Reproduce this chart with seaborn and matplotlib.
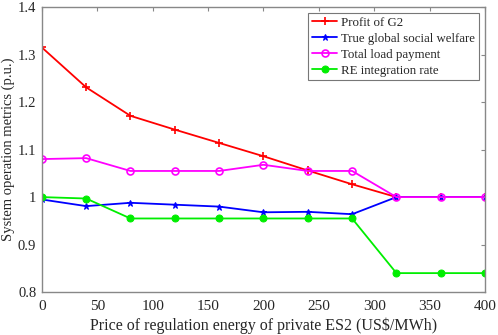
import numpy as np
import pandas as pd
import matplotlib
matplotlib.use("Agg")
import matplotlib.pyplot as plt
import seaborn as sns

# --- data ---
price = [0, 40, 80, 120, 160, 200, 240, 280, 320, 360, 400]
profit_g2 = [1.315, 1.231, 1.171, 1.142, 1.114, 1.086, 1.056, 1.027, 1.0, 1.0, 1.0]
social_welfare = [0.995, 0.981, 0.988, 0.984, 0.980, 0.968, 0.969, 0.964, 1.0, 1.0, 1.0]
load_payment = [1.080, 1.082, 1.055, 1.055, 1.055, 1.068, 1.055, 1.055, 1.0, 1.0, 1.0]
re_rate = [1.0, 0.997, 0.955, 0.955, 0.955, 0.955, 0.955, 0.955, 0.840, 0.840, 0.840]

series_names = ["Profit of G2", "True global social welfare",
                "Total load payment", "RE integration rate"]
xticks = [0, 50, 100, 150, 200, 250, 300, 350, 400]
yticks = [0.8, 0.9, 1.0, 1.1, 1.2, 1.3, 1.4]
ytick_labels = ["0.8", "0.9", "1", "1.1", "1.2", "1.3", "1.4"]

sns.set_style("white")
plt.rcParams["font.family"] = ["Liberation Serif", "DejaVu Serif"]

fig = plt.figure(figsize=(4.98, 3.35), dpi=100)
ax = fig.add_axes([0.084, 0.128, 0.89, 0.851])

styles = [
    (profit_g2, "#ff0000", "+", dict(markersize=6, markeredgewidth=1.2)),
    (social_welfare, "#0000ff", "*", dict(markersize=5)),
    (load_payment, "#ff00ff", "o", dict(markersize=5, markerfacecolor="none", markeredgewidth=1.2)),
    (re_rate, "#00ee00", "o", dict(markersize=5)),
]

for name, (vals, col, mk, kw) in zip(series_names, styles):
    sns.lineplot(x=price, y=vals, ax=ax, color=col, marker=mk, linewidth=1.3,
                 markeredgecolor=col, label=name, **kw)

ax.set_xlim(0, 400)
ax.set_ylim(0.8, 1.4)
ax.set_xticks(xticks)
ax.set_yticks(yticks)
ax.set_yticklabels(ytick_labels)
ax.tick_params(direction="in", top=True, right=True, labelsize=10.5, length=3,
               color="#888888")
ax.tick_params(axis="x", pad=6, labelsize=11)
ax.tick_params(axis="y", pad=4)
for sp in ax.spines.values():
    sp.set_color("#888888")
    sp.set_linewidth(1.0)

ax.set_xlabel("Price of regulation energy of private ES2 (US$/MWh)", fontsize=11.5, labelpad=3)
ax.set_ylabel("System operation metrics (p.u.)", fontsize=10.5, labelpad=2)

leg = ax.legend(loc="upper right", fontsize=9.3, frameon=True, fancybox=False,
                borderpad=0.25, labelspacing=0.3, handlelength=2.0, handletextpad=0.3,
                borderaxespad=0.5)
leg.get_frame().set_edgecolor("#555555")
leg.get_frame().set_linewidth(0.8)

fig.savefig("out.png", dpi=100)
